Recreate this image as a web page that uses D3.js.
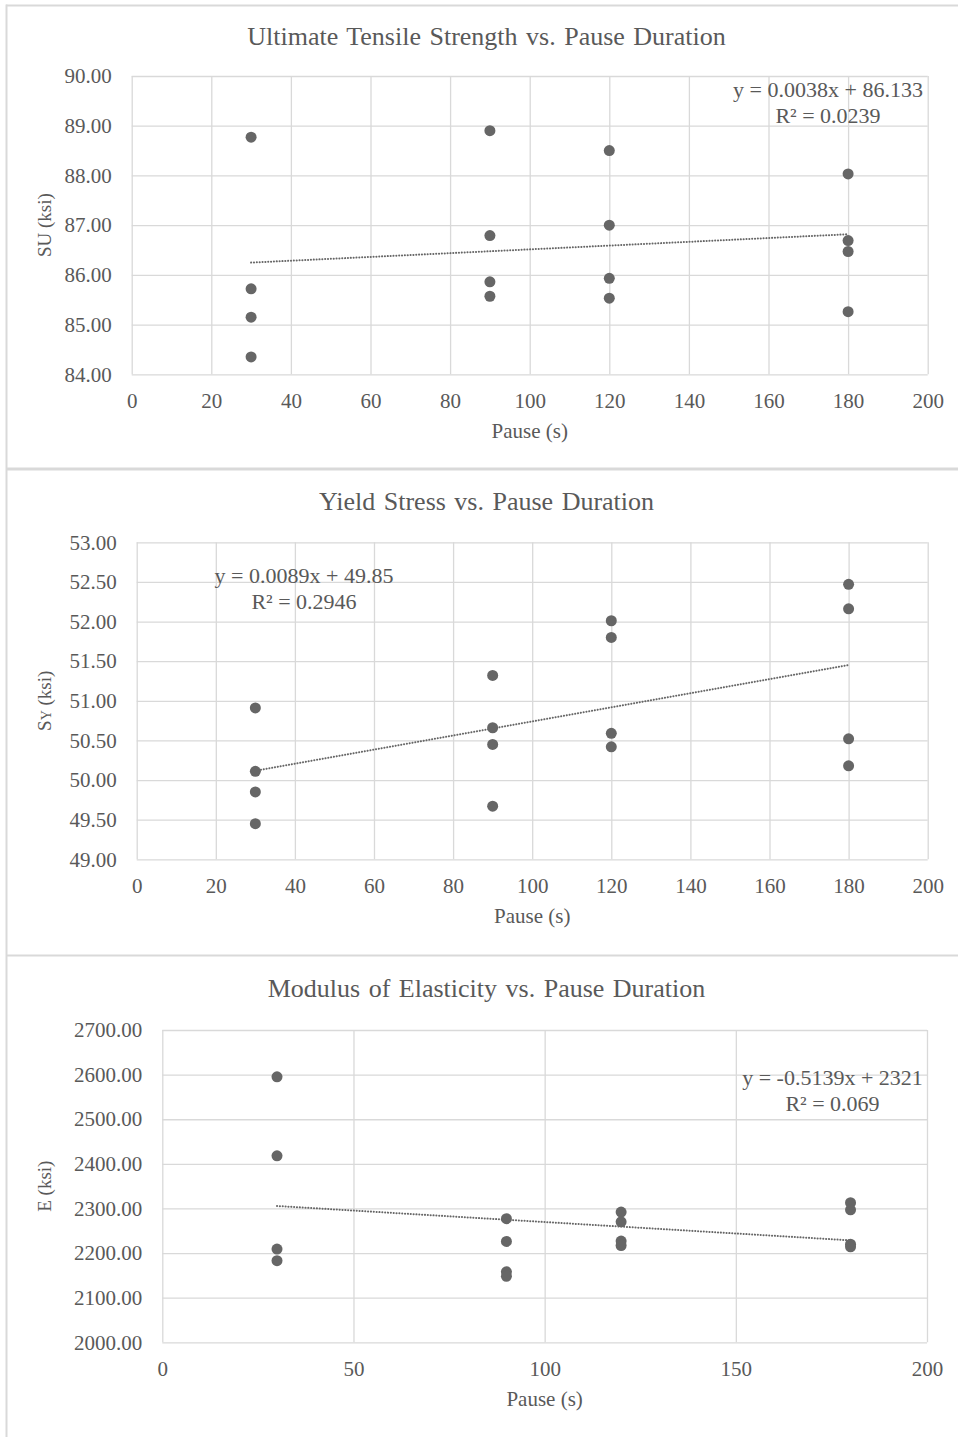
<!DOCTYPE html>
<html>
<head>
<meta charset="utf-8">
<script src="https://cdn.jsdelivr.net/npm/d3@7"></script>
<style>
  body { margin: 0; background: #fff; }
  svg { display: block; }
  text { font-family: "Liberation Serif", "Times New Roman", serif; fill: #595959; }
</style>
</head>
<body>
<svg id="chart" width="958" height="1437"></svg>
<script>
// Pause duration (s) for each specimen
const pauseSeconds = [30, 30, 30, 30, 90, 90, 90, 90, 120, 120, 120, 120, 180, 180, 180, 180];

// Measured properties (ksi), one value per specimen
const ultimateStrength = [88.77, 85.72, 85.15, 84.35, 88.90, 86.79, 85.86, 85.57, 88.50, 87.00, 85.93, 85.53, 88.03, 86.69, 86.47, 85.26];
const yieldStress = [50.91, 50.11, 49.85, 49.45, 51.32, 50.66, 50.45, 49.67, 52.01, 51.80, 50.59, 50.42, 52.47, 52.16, 50.52, 50.18];
const elasticModulus = [2595, 2418, 2209, 2183, 2277, 2226, 2158, 2148, 2292, 2270, 2227, 2217, 2313, 2297, 2220, 2214];

// Linear trendlines: [slope, intercept] and R²
const ultimateFit = [0.0038, 86.133];
const ultimateR2 = "0.0239";
const yieldFit = [0.0089, 49.85];
const yieldR2 = "0.2946";
const modulusFit = [-0.5139, 2321];
const modulusR2 = "0.069";

// Axis ticks
const ultimateTicks = [84, 85, 86, 87, 88, 89, 90];
const yieldTicks = [49, 49.5, 50, 50.5, 51, 51.5, 52, 52.5, 53];
const modulusTicks = [2000, 2100, 2200, 2300, 2400, 2500, 2600, 2700];
const pauseTicksFine = [0, 20, 40, 60, 80, 100, 120, 140, 160, 180, 200];
const pauseTicksCoarse = [0, 50, 100, 150, 200];

const titles = [
  "Ultimate Tensile Strength vs. Pause Duration",
  "Yield Stress vs. Pause Duration",
  "Modulus of Elasticity vs. Pause Duration"
];

const SERIF = '"Liberation Serif", "Times New Roman", serif';
const GRID = "#d9d9d9";
const svg = d3.select("#chart");

// Panel layout
const panels = [
  {
    title: titles[0], values: ultimateStrength, yTicks: ultimateTicks, xTicks: pauseTicksFine,
    fit: ultimateFit, r2: ultimateR2, yLabel: ["SU", "", " (ksi)"],
    plot: { l: 131.7, r: 927.7, t: 76, b: 374.3 }, titleY: 45, eq: { x: 828, y: 97 }
  },
  {
    title: titles[1], values: yieldStress, yTicks: yieldTicks, xTicks: pauseTicksFine,
    fit: yieldFit, r2: yieldR2, yLabel: ["S", "Y", " (ksi)"],
    plot: { l: 136.7, r: 927.7, t: 542.3, b: 859.3 }, titleY: 510, eq: { x: 304, y: 583 }
  },
  {
    title: titles[2], values: elasticModulus, yTicks: modulusTicks, xTicks: pauseTicksCoarse,
    fit: modulusFit, r2: modulusR2, yLabel: ["E", "", " (ksi)"],
    plot: { l: 162.3, r: 927, t: 1030, b: 1342.3 }, titleY: 996.5, eq: { x: 832.5, y: 1085 }
  }
];

// Chart frames
const frame = svg.append("g").attr("stroke", GRID).attr("fill", "none");
frame.append("line").attr("x1", 6.5).attr("x2", 6.5).attr("y1", 4.5).attr("y2", 1437).attr("stroke-width", 2);
frame.append("line").attr("x1", 6).attr("x2", 958).attr("y1", 5.5).attr("y2", 5.5).attr("stroke-width", 2);
frame.append("line").attr("x1", 6).attr("x2", 958).attr("y1", 469).attr("y2", 469).attr("stroke-width", 3);
frame.append("line").attr("x1", 6).attr("x2", 958).attr("y1", 955.5).attr("y2", 955.5).attr("stroke-width", 2);

panels.forEach(p => {
  const g = svg.append("g");
  const x = d3.scaleLinear().domain([d3.min(p.xTicks), d3.max(p.xTicks)]).range([p.plot.l, p.plot.r]);
  const y = d3.scaleLinear().domain([d3.min(p.yTicks), d3.max(p.yTicks)]).range([p.plot.b, p.plot.t]);

  // Gridlines
  g.append("g")
    .attr("transform", `translate(${p.plot.l},0)`)
    .call(d3.axisLeft(y).tickValues(p.yTicks).tickSize(-(p.plot.r - p.plot.l)).tickFormat(""))
    .call(a => a.select(".domain").remove())
    .call(a => a.selectAll("line").attr("stroke", GRID).attr("stroke-width", 1.3));
  g.append("g")
    .attr("transform", `translate(0,${p.plot.b})`)
    .call(d3.axisBottom(x).tickValues(p.xTicks).tickSize(-(p.plot.b - p.plot.t)).tickFormat(""))
    .call(a => a.select(".domain").remove())
    .call(a => a.selectAll("line").attr("stroke", GRID).attr("stroke-width", 1.3));

  // Tick labels
  const yAxis = g.append("g")
    .attr("transform", `translate(${p.plot.l},0)`)
    .call(d3.axisLeft(y).tickValues(p.yTicks).tickSize(0).tickPadding(20).tickFormat(d3.format(".2f")))
    .attr("font-family", SERIF).attr("font-size", 21);
  yAxis.select(".domain").remove();
  yAxis.selectAll("text").style("font-family", SERIF).style("font-size", "21px").attr("fill", "#595959");

  const xAxis = g.append("g")
    .attr("transform", `translate(0,${p.plot.b})`)
    .call(d3.axisBottom(x).tickValues(p.xTicks).tickSize(0).tickPadding(0).tickFormat(d3.format("d")))
    .attr("font-family", SERIF).attr("font-size", 21);
  xAxis.select(".domain").remove();
  xAxis.selectAll("text").style("font-family", SERIF).style("font-size", "21px").attr("fill", "#595959")
    .attr("dy", null).attr("y", 34);

  // Titles and axis labels
  g.append("text").attr("x", 486.5).attr("y", p.titleY).attr("text-anchor", "middle")
    .attr("font-size", 26).attr("word-spacing", 2).text(p.title);
  g.append("text").attr("x", (p.plot.l + p.plot.r) / 2).attr("y", p.plot.b + 64)
    .attr("text-anchor", "middle").attr("font-size", 21).text("Pause (s)");
  const yl = g.append("text")
    .attr("transform", `translate(51,${(p.plot.t + p.plot.b) / 2}) rotate(-90)`)
    .attr("text-anchor", "middle").attr("font-size", 19);
  yl.append("tspan").text(p.yLabel[0]);
  if (p.yLabel[1]) yl.append("tspan").attr("font-size", 14).text(p.yLabel[1]);
  yl.append("tspan").text(p.yLabel[2]);

  // Trendline from the stated fit (round-dot style)
  const xs = d3.extent(pauseSeconds);
  g.append("line")
    .attr("x1", x(xs[0])).attr("y1", y(p.fit[0] * xs[0] + p.fit[1]))
    .attr("x2", x(xs[1])).attr("y2", y(p.fit[0] * xs[1] + p.fit[1]))
    .attr("stroke", "#666666").attr("stroke-width", 2).attr("stroke-linecap", "round")
    .attr("stroke-dasharray", "0.1 2.75");

  // Data points
  g.append("g").selectAll("circle")
    .data(pauseSeconds.map((s, i) => [s, p.values[i]]))
    .join("circle")
    .attr("cx", d => x(d[0])).attr("cy", d => y(d[1])).attr("r", 5.5)
    .attr("fill", "#666666");

  // Trendline equation
  const eq = g.append("text").attr("text-anchor", "middle").attr("font-size", 22);
  eq.append("tspan").attr("x", p.eq.x).attr("y", p.eq.y)
    .text(`y = ${p.fit[0]}x + ${p.fit[1]}`);
  eq.append("tspan").attr("x", p.eq.x).attr("y", p.eq.y + 26)
    .text(`R² = ${p.r2}`);
});
</script>
</body>
</html>
